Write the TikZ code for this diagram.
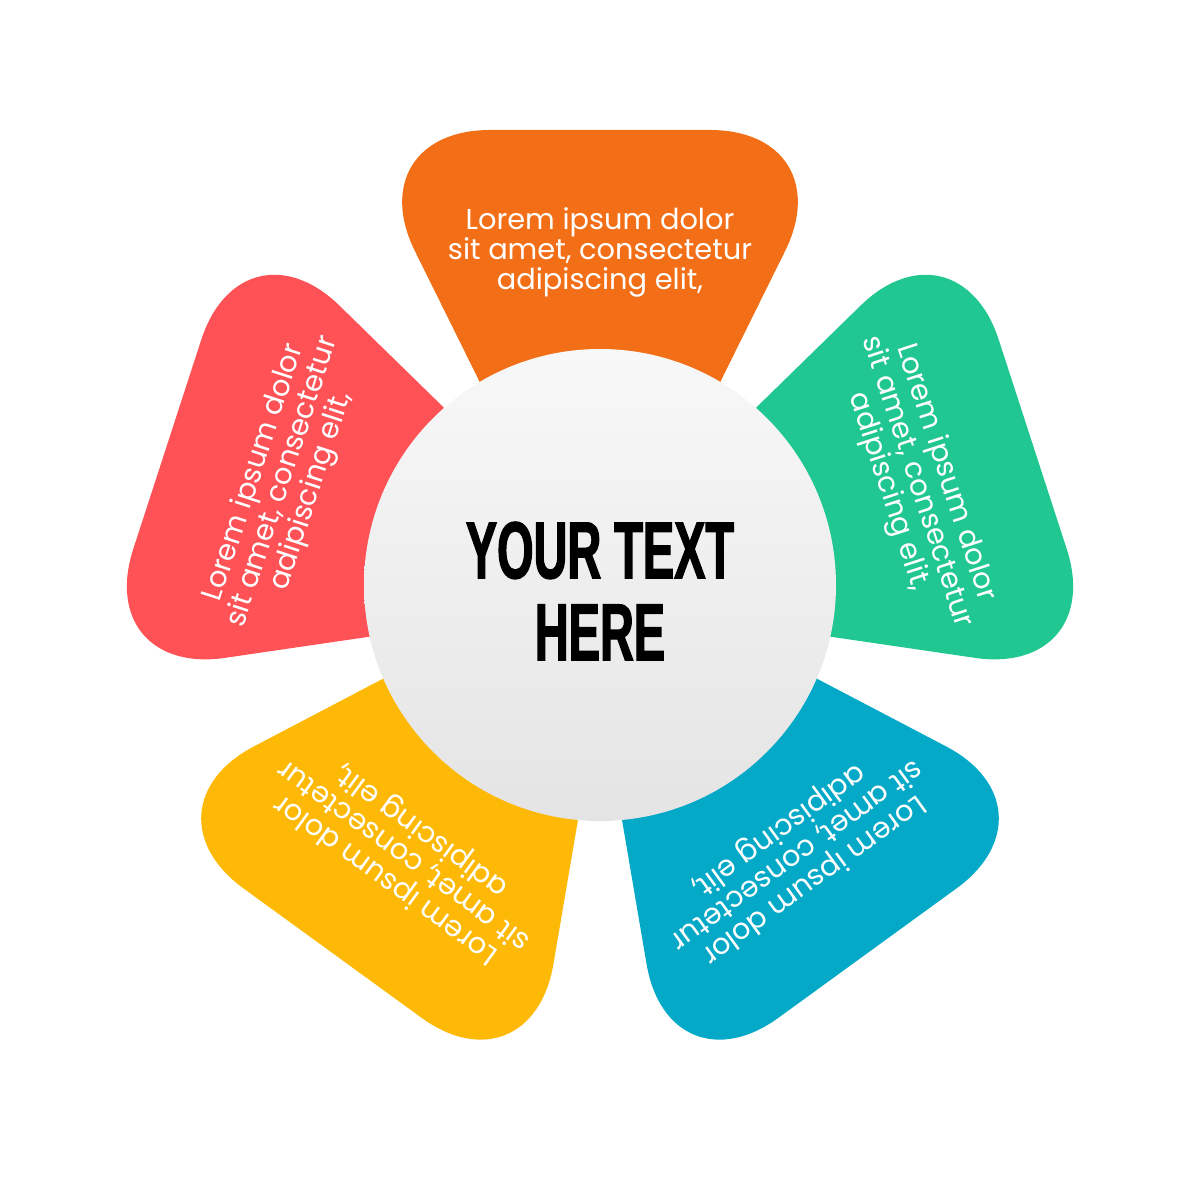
\documentclass[tikz,border=0pt]{standalone}
\usepackage{fontspec}
\usepackage{tikz}
\newfontfamily\loremfont{Poppins}
\newfontfamily\headfont[FakeStretch=0.58,FakeBold=1.5]{Liberation Sans}
\definecolor{petalorange}{HTML}{F36F17}
\definecolor{petalgreen}{HTML}{20C791}
\definecolor{petalblue}{HTML}{03A9C7}
\definecolor{petalyellow}{HTML}{FDB906}
\definecolor{petalred}{HTML}{FE5256}
\definecolor{hubtop}{HTML}{F8F8F8}
\definecolor{hubbottom}{HTML}{E4E4E4}

\begin{document}
\begin{tikzpicture}[x=0.1mm,y=0.1mm,
  petaltext/.style={text=white, align=center, inner sep=0pt,
    font=\loremfont\fontsize{8.2}{8.55}\selectfont}]
  \useasboundingbox (-600,-615) rectangle (600,585);
  % five petals, one every 72 degrees
  \foreach \ang/\col [count=\i] in {0/petalorange,-72/petalgreen,-144/petalblue,144/petalyellow,72/petalred}{
    \begin{scope}[rotate=\ang]
      \fill[\col, rounded corners=13.5mm] (0,-40) -- (-245,455) -- (245,455) -- cycle;
      \node[petaltext, rotate=\ang] (lorem\i) at (0,333) {Lorem ipsum dolor\\sit amet, consectetur\\adipiscing elit,};
    \end{scope}
  }
  % centre disc
  \node[circle, minimum size=47.2mm, inner sep=0pt, top color=hubtop, bottom color=hubbottom] (hub) at (0,0) {};
  \node[align=center, font=\headfont\bfseries\fontsize{23}{23.3}\selectfont] (title) at (0,-6) {YOUR TEXT\\HERE};
\end{tikzpicture}
\end{document}
